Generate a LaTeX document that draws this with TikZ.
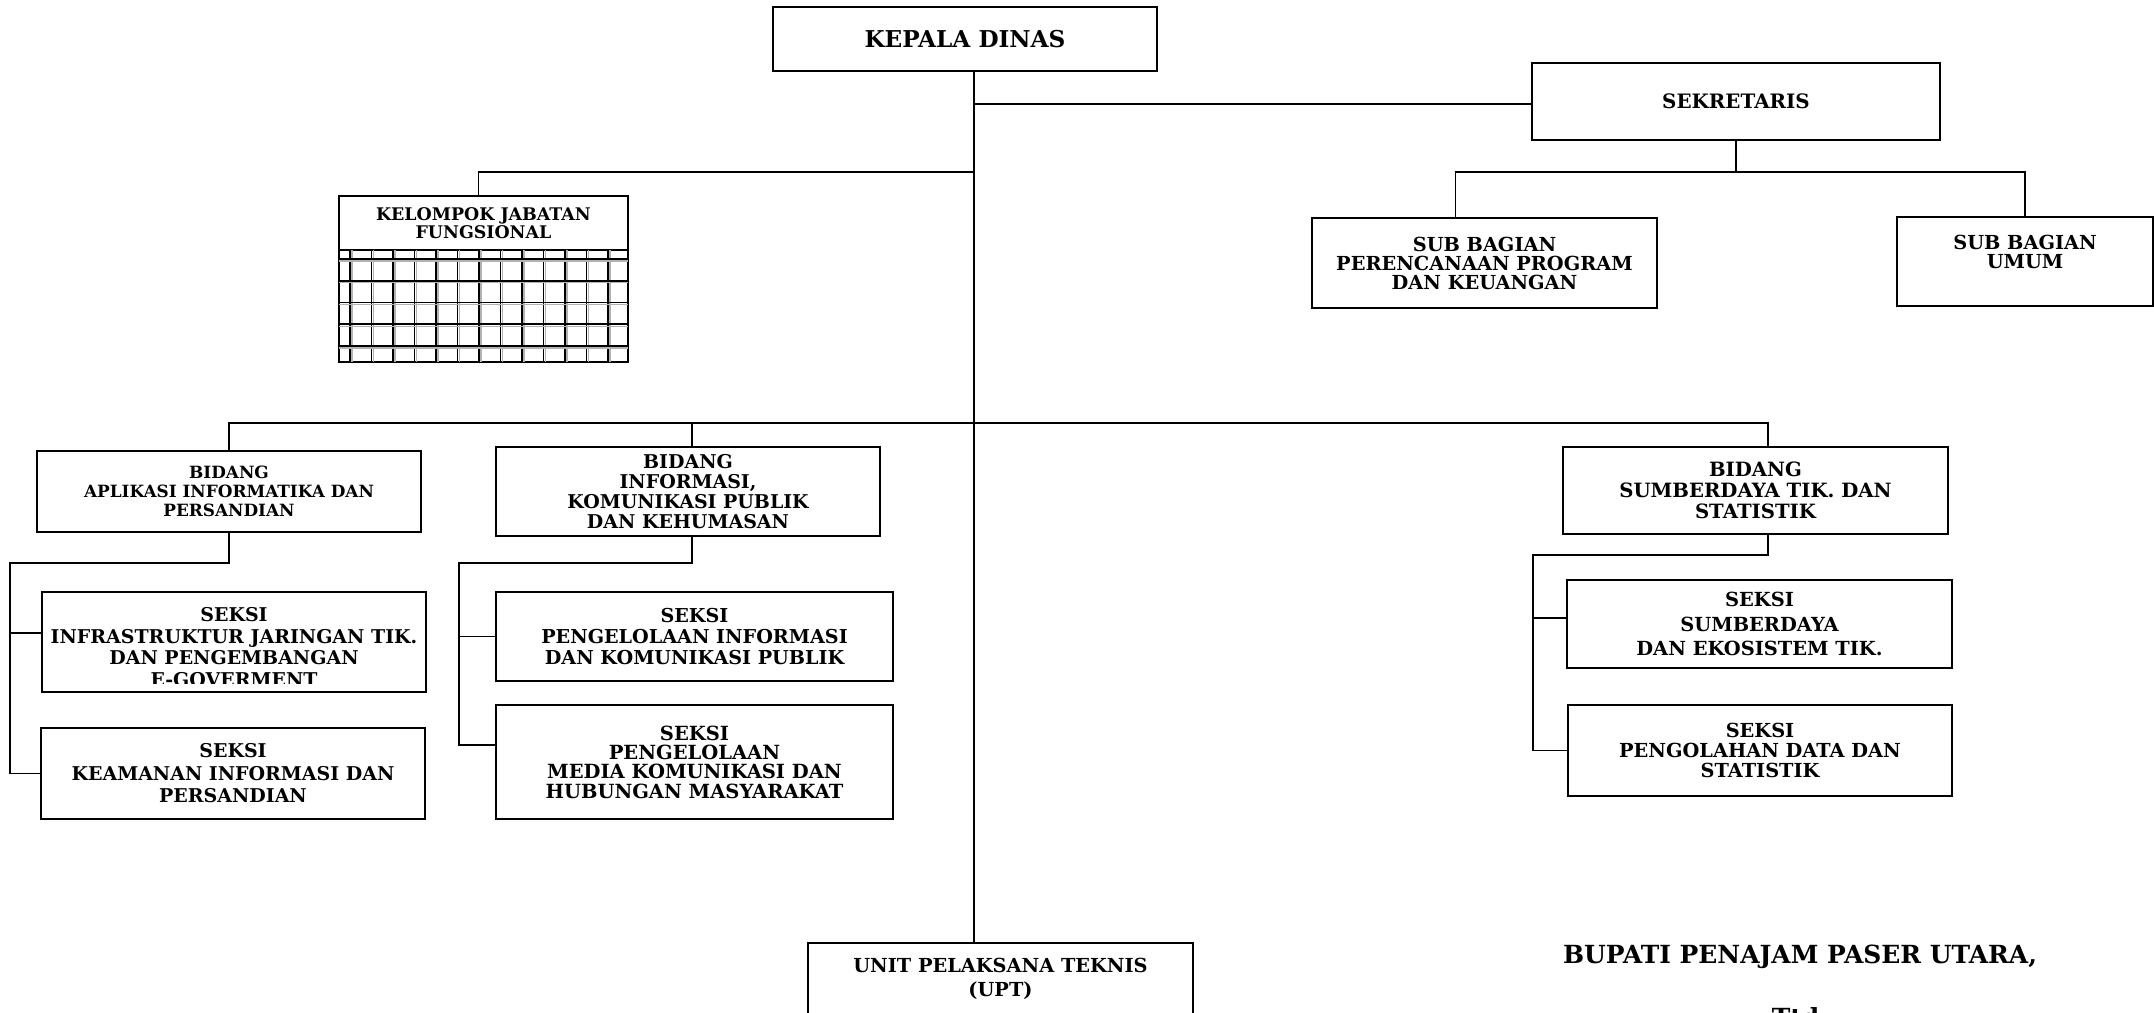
\documentclass[tikz,border=0pt]{standalone}
\usepackage{fontspec}
\setmainfont{DejaVu Serif}
\tikzset{
  kotak/.style={draw, line width=1.2pt, align=center, inner sep=0pt, font=\bfseries\fontsize{11}{12}\selectfont},
  teks/.style={align=center, inner sep=0pt, font=\bfseries\fontsize{10.8}{12.2}\selectfont},
  garis/.style={line width=1.1pt},
  kisi/.style={line width=0.9pt},
  bayang/.style={line width=0.8pt, black!30}
}
\def\lebar{2154}
\def\tinggi{1012}

\begin{document}
\begin{tikzpicture}[x=0.02cm, y=-0.02cm]
	\useasboundingbox (0,0) rectangle (\lebar,\tinggi);
	\clip (0,0) rectangle (\lebar,\tinggi);
	\coordinate (batang) at (974,0);
	\coordinate (bar1) at (0,172);
	\coordinate (bar2) at (0,423);
	\coordinate (kiri1) at (10,563);
	\coordinate (kiri2) at (459,563);
	\coordinate (kiri3) at (1533,555);
	% pimpinan
	\node[kotak, minimum width=7.68cm, minimum height=1.28cm, font=\bfseries\fontsize{13.2}{13.2}\selectfont] (kadis) at (965,39) {KEPALA DINAS};
	\node[kotak, minimum width=8.16cm, minimum height=1.54cm, font=\bfseries\fontsize{11.3}{11.3}\selectfont] (sekre) at (1736,101.5) {SEKRETARIS};
	\node[kotak, minimum width=6.9cm, minimum height=1.8cm, font=\bfseries\fontsize{11}{10.8}\selectfont] (subprog) at (1484.5,263) {SUB BAGIAN\\PERENCANAAN PROGRAM\\DAN KEUANGAN};
	\node[kotak, minimum width=5.12cm, minimum height=1.78cm, font=\bfseries\fontsize{11}{10.8}\selectfont] (subumum) at (2025,261.5) {SUB BAGIAN\\UMUM\\~};
	% jabatan fungsional
	\node[kotak, minimum width=5.78cm, minimum height=1.08cm, font=\bfseries\fontsize{9.9}{10.2}\selectfont] (jf) at (483.5,223) {KELOMPOK JABATAN\\FUNGSIONAL};
	\node[kotak, minimum width=5.78cm, minimum height=2.24cm] (jfkisi) at (483.5,306) {};
	\foreach \i in {0,...,12} {
		\draw[bayang] (352+21.5*\i,250) -- (352+21.5*\i,362);
		\draw[kisi] (350+21.5*\i,250) -- (350+21.5*\i,362);
	}
	\foreach \j in {0,...,4} {
		\draw[bayang] (339,261+21.75*\j) -- (628,261+21.75*\j);
		\draw[kisi] (339,259+21.75*\j) -- (628,259+21.75*\j);
	}
	% bidang
	\node[kotak, minimum width=7.68cm, minimum height=1.62cm, font=\bfseries\fontsize{9.6}{10.8}\selectfont] (bidapl) at (229,491.5) {BIDANG\\APLIKASI INFORMATIKA DAN\\PERSANDIAN};
	\node[kotak, minimum width=7.68cm, minimum height=1.78cm, font=\bfseries\fontsize{10.8}{11.4}\selectfont] (bidinf) at (688,491.5) {BIDANG\\INFORMASI,\\KOMUNIKASI PUBLIK\\DAN KEHUMASAN};
	\node[kotak, minimum width=7.7cm, minimum height=1.74cm, font=\bfseries\fontsize{11.2}{12}\selectfont] (bidsdm) at (1755.5,490.5) {BIDANG\\SUMBERDAYA TIK. DAN\\STATISTIK};
	% seksi
	\node[kotak, minimum width=7.68cm, minimum height=2cm] (infra) at (234,642) {};
	\begin{scope}
		\clip (42,592) rectangle (426,683);
		\node[teks] (infrateks) at (234,647) {SEKSI\\INFRASTRUKTUR JARINGAN TIK.\\DAN PENGEMBANGAN\\E-GOVERMENT};
	\end{scope}
	\node[kotak, minimum width=7.68cm, minimum height=1.82cm, font=\bfseries\fontsize{10.8}{12.8}\selectfont] (keamanan) at (233,773.5) {SEKSI\\KEAMANAN INFORMASI DAN\\PERSANDIAN};
	\node[kotak, minimum width=7.94cm, minimum height=1.78cm, font=\bfseries\fontsize{10.9}{12}\selectfont] (pinf) at (694.5,636.5) {SEKSI\\PENGELOLAAN INFORMASI\\DAN KOMUNIKASI PUBLIK};
	\node[kotak, minimum width=7.94cm, minimum height=2.28cm, font=\bfseries\fontsize{11.1}{11}\selectfont] (media) at (694.5,762) {SEKSI\\PENGELOLAAN\\MEDIA KOMUNIKASI DAN\\HUBUNGAN MASYARAKAT};
	\node[kotak, minimum width=7.7cm, minimum height=1.76cm, font=\bfseries\fontsize{11.05}{14}\selectfont] (sseko) at (1759.5,624) {SEKSI\\SUMBERDAYA\\DAN EKOSISTEM TIK.};
	\node[kotak, minimum width=7.68cm, minimum height=1.82cm, font=\bfseries\fontsize{11}{11.4}\selectfont] (solah) at (1760,750.5) {SEKSI\\PENGOLAHAN DATA DAN\\STATISTIK};
	\node[kotak, minimum width=7.7cm, minimum height=1.44cm, font=\bfseries\fontsize{11}{13.7}\selectfont] (upt) at (1000.5,979) {UNIT PELAKSANA TEKNIS\\(UPT)};
	% pengesahan
	\node[font=\bfseries\fontsize{14.2}{14.2}\selectfont] (bupati) at (1800,957) {BUPATI PENAJAM PASER UTARA,};
	\node[anchor=north, inner sep=0pt, font=\bfseries\fontsize{14.2}{14.2}\selectfont] (ttd) at (1800,1007) {Ttd.};
	% titik sambung
	\coordinate (ksekre) at ([yshift=-0.05cm]sekre.west);
	\coordinate (kprog) at ([xshift=-0.58cm]subprog.north);
	\coordinate (kjf) at ([xshift=-0.1cm]jf.north);
	\coordinate (infatas) at ([xshift=0.08cm]bidinf.north);
	\coordinate (infbawah) at ([xshift=0.08cm]bidinf.south);
	\coordinate (sdmatas) at ([xshift=0.25cm]bidsdm.north);
	\coordinate (sdmbawah) at ([xshift=0.25cm]bidsdm.south);
	\coordinate (kinfra) at ([yshift=0.18cm]infra.west);
	\coordinate (kmedia) at ([yshift=0.34cm]media.west);
	\coordinate (ksseko) at ([yshift=0.12cm]sseko.west);
	% garis
	\draw[garis] (kadis.south -| batang) -- (upt.north -| batang);
	\draw[garis] (ksekre) -- (ksekre -| batang);
	\draw[garis] (sekre.south) -- (sekre.south |- bar1) -| (kprog);
	\draw[garis] (sekre.south |- bar1) -| (subumum.north);
	\draw[garis] (batang |- bar1) -| (kjf);
	\draw[garis] (bidapl.north) |- (sdmatas |- bar2) -- (sdmatas);
	\draw[garis] (infatas) -- (infatas |- bar2);
	\draw[garis] (bidapl.south) |- (kiri1) |- (keamanan.west);
	\draw[garis] (kiri1 |- kinfra) -- (kinfra);
	\draw[garis] (infbawah) |- (kiri2) |- (kmedia);
	\draw[garis] (kiri2 |- pinf.west) -- (pinf.west);
	\draw[garis] (sdmbawah) |- (kiri3) |- (solah.west);
	\draw[garis] (kiri3 |- ksseko) -- (ksseko);
\end{tikzpicture}
\end{document}
